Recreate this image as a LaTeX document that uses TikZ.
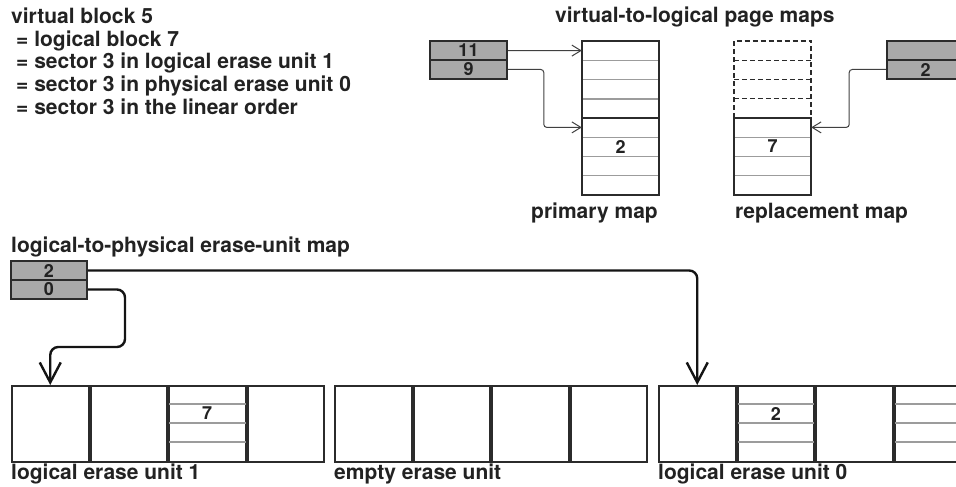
\documentclass[tikz,border=0pt]{standalone}
\usepackage{fontspec}
\setmainfont{TeX Gyre Heros}
\usetikzlibrary{arrows.meta}
\definecolor{mapgray}{HTML}{A9A9A9}
\definecolor{linec}{HTML}{2B2B2B}
\definecolor{rowc}{HTML}{9C9C9C}
\definecolor{txtc}{HTML}{222222}
\begin{document}
\begin{tikzpicture}[x=1pt,y=-1pt,
  every node/.style={inner sep=0pt, text=txtc},
  lbl/.style={font=\bfseries\fontsize{21}{25}\selectfont},
  numf/.style={font=\bfseries\fontsize{18}{21}\selectfont},
  mapcell/.style={numf, rectangle, draw=linec, line width=1.8pt, fill=mapgray, minimum width=77pt, minimum height=19pt},
  rowcell/.style={numf, rectangle, minimum width=77pt, minimum height=19.2pt},
  ucell/.style={numf, rectangle, draw=linec, line width=2pt, minimum width=76.5pt, minimum height=76pt, anchor=north west},
  rowline/.style={draw=rowc, line width=1.4pt},
  thickbox/.style={draw=linec, line width=2pt},
  dashbox/.style={draw=linec, line width=1.6pt, dash pattern=on 5pt off 3pt},
  dashrow/.style={draw=linec, line width=1pt, dash pattern=on 5pt off 3pt},
  thinarrow/.style={draw=black!75, line width=1pt, rounded corners=3pt, -{Straight Barb[length=9pt,width=11pt]}},
  bigarrow/.style={draw=black!92, line width=2.4pt, rounded corners=8pt, -{Straight Barb[length=20pt,width=21pt]}}
]
\clip (0,0) rectangle (956,487);
\useasboundingbox (0,0) rectangle (956,487);

% top-left text
\node[lbl, anchor=base west] (t1) at (11,24) {virtual block 5};
\node[lbl, anchor=base west] (t2) at (16,46.5) {= logical block 7};
\node[lbl, anchor=base west] (t3) at (16,69) {= sector 3 in logical erase unit 1};
\node[lbl, anchor=base west] (t4) at (16,91.5) {= sector 3 in physical erase unit 0};
\node[lbl, anchor=base west] (t5) at (16,114) {= sector 3 in the linear order};

% title
\node[lbl, anchor=base west] (ttl) at (555,22.5) {virtual-to-logical page maps};

% virtual map box
\node[mapcell] (v11) at (468.5,50.5) {11};
\node[mapcell] (v9) at (468.5,69.5) {9};

% primary map
\foreach \i/\t in {1/,2/,3/,4/,5/,6/2,7/,8/}
  \node[rowcell] (p\i) at (620.5,{41+19.2*\i-9.6}) {\t};
\foreach \i in {1,2,3,5,6,7}
  \draw[rowline] (p\i.south west) -- (p\i.south east);
\draw[thickbox] (p1.north west) rectangle (p8.south east);
\draw[thickbox] (p4.south west) -- (p4.south east);
\node[lbl, anchor=base east] (lp) at (658,218) {primary map};

% replacement map
\foreach \i/\t in {1/,2/,3/,4/,5/,6/7,7/,8/}
  \node[rowcell] (r\i) at (772.5,{41+19.2*\i-9.6}) {\t};
\foreach \i in {1,2,3}
  \draw[dashrow] (r\i.south west) -- (r\i.south east);
\draw[dashbox] (r4.south west) -- (r1.north west) -- (r1.north east) -- (r4.south east);
\foreach \i in {5,6,7}
  \draw[rowline] (r\i.south west) -- (r\i.south east);
\draw[thickbox] (r5.north west) rectangle (r8.south east);
\node[lbl, anchor=base west] (lr) at (735,218) {replacement map};

% right map box
\node[mapcell] (w1) at (925.5,50.5) {};
\node[mapcell] (w2) at (925.5,69.5) {2};

% top connectors
\draw[thinarrow] (v11.east) -- (p1.west);
\draw[thinarrow] (v9.east) -| ([xshift=-38pt]p5.west) -- (p5.west);
\draw[thinarrow] (w2.west) -| ([xshift=38pt]r5.east) -- (r5.east);

% erase-unit map
\node[lbl, anchor=base west] (ttl2) at (11,252) {logical-to-physical erase-unit map};
\node[mapcell, minimum width=76pt] (em1) at (49,270.5) {2};
\node[mapcell, minimum width=76pt] (em2) at (49,289.5) {0};

% logical erase unit 1
\node[ucell] (a1) at (11,385) {};
\node[ucell] (a2) at (a1.north east) {};
\node[ucell] (a3) at (a2.north east) {};
\node[ucell] (a4) at (a3.north east) {};
\node[lbl, anchor=base west] (la) at (11,479) {logical erase unit 1};

% empty erase unit
\node[ucell] (b1) at (334,385) {};
\node[ucell] (b2) at (b1.north east) {};
\node[ucell] (b3) at (b2.north east) {};
\node[ucell] (b4) at (b3.north east) {};
\node[lbl, anchor=base west] (lb) at (334,479) {empty erase unit};

% logical erase unit 0
\node[ucell] (c1) at (658,385) {};
\node[ucell] (c2) at (c1.north east) {};
\node[ucell] (c3) at (c2.north east) {};
\node[ucell] (c4) at (c3.north east) {};
\node[lbl, anchor=base west] (lc) at (658,479) {logical erase unit 0};

% sector rows
\foreach \c in {a3,c2,c4}
  \foreach \d in {19,38,57}
    \draw[rowline, shorten <=1pt, shorten >=1pt] ([yshift=-\d pt]\c.north west) -- ([yshift=-\d pt]\c.north east);
\node[numf] (s7) at ([yshift=-28.5pt]a3.north) {7};
\node[numf] (s2) at ([yshift=-28.5pt]c2.north) {2};

% bottom connectors
\coordinate (bend) at (125,347);
\draw[bigarrow] (em1.east) -| (c1.north);
\draw[bigarrow] (em2.east) -| (bend) -| (a1.north);
\end{tikzpicture}
\end{document}
